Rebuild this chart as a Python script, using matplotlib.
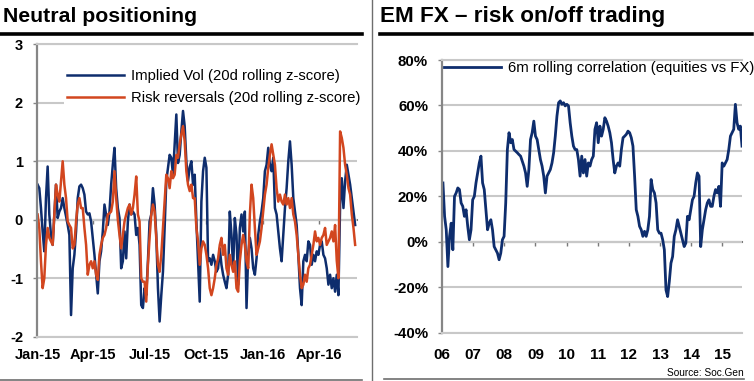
import numpy as np
import pandas as pd
import matplotlib
matplotlib.use("Agg")
import matplotlib.pyplot as plt
import matplotlib.dates as mdates
import matplotlib.ticker as mticker
from matplotlib.lines import Line2D

plt.rcParams['font.family'] = ['Liberation Sans', 'DejaVu Sans']
plt.rcParams['axes.unicode_minus'] = False

# --- Neutral positioning: 20d rolling z-scores, Jan-15 .. end of May-16 ---
implied_vol = [
    0.60, 0.54, 0.20, -0.20, -0.54, 0.37, 0.91, 0.09, -0.26, -0.43, 0.09, 0.60,
    0.03, 0.14, 0.20, 0.37, 0.20, 0.06, -0.09, -0.26, -1.63, -0.83, -0.60, -0.20,
    0.37, 0.57, 0.60, 0.54, 0.43, 0.14, 0.09, 0.11, -0.03, -0.31, -0.60, -0.94,
    -1.26, -0.71, -0.54, -0.20, 0.26, 0.09, -0.09, 0.14, 0.60, 0.94,
    1.23, 0.54, 0.20, 0.03, -0.83, -0.71, -0.20, -0.66, -0.03, 0.26, 0.09, 0.14,
    0.09, -0.26, -0.14, -0.43, -1.46, -1.51, -1.17, -1.29, -0.71, -0.03, 0.09, 0.54,
    0.26, -0.26, -1.17, -1.74, -1.29, -0.89, -0.14, 0.66, 0.89, 1.11, 1.06, 0.77,
    1.29, 1.80, 0.97, 1.11, 1.51, 1.86, 1.60, 1.00, 0.66, 0.90, 1.00, 0.60,
    0.77, -0.03, -0.71, -1.40, 0.31, 0.83, 1.06, 0.89, -0.71, -0.66, -0.77, -0.60,
    -0.71, -0.89, -0.83, -0.49, -0.77, -0.94, -1.06, -1.17, -0.94, 0.14, -0.26, -0.83,
    0.03, -0.26, -1.11, -0.14, 0.09, -0.20, 0.14, -1.51, -0.60, -0.31, -0.49, -0.83,
    -0.94, -0.66, -0.26, -0.03, 0.14, 0.37, 0.83, 0.94, 1.23, 0.94, 0.83, 1.06,
    0.20, 0.09, -0.20, -0.49, -0.71, -0.26, 0.20, 0.54, 1.00, 1.34, 0.94, 0.37,
    0.14, -0.09, -0.60, -1.17, -1.46, -0.71, -0.60, -0.71, -0.37, -0.43, -0.77, -0.60,
    -0.71, -0.54, -0.60, -0.43, -0.37, -0.60, -0.66, -0.83, -1.11, -0.94, -1.17, -1.00,
    -1.23, -0.94, -1.29, 0.26, 0.71, 0.20, 0.66, 0.94, 0.77, 0.60, 0.37, 0.14, -0.09,
]
risk_reversals = [
    0.09, -0.14, -0.71, -1.17, -1.00, -0.43, -0.14, -0.31, -0.37, -0.43, 0.09, 0.60,
    0.43, 0.31, 0.66, 1.00, 0.60, 0.37, -0.03, -0.09, -0.14, -0.49, -0.43, -0.03,
    0.26, 0.37, 0.20, 0.20, -0.14, -0.43, -0.94, -0.77, -0.71, -0.83, -0.71, -0.94,
    -1.03, -0.60, -0.43, -0.31, -0.26, -0.14, 0.09, 0.11, 0.14, 0.31,
    0.83, 0.37, 0.00, -0.26, -0.49, -0.26, -0.03, 0.09, 0.20, 0.26, 0.09, 0.20,
    0.43, 0.74, 0.09, -0.03, -1.00, -1.06, -1.06, -1.40, -0.77, -0.31, 0.09, 0.26,
    0.14, -0.31, -0.77, -0.89, -0.60, -0.14, 0.31, 0.77, 0.71, 0.54, 0.83, 0.71,
    0.77, 1.11, 1.06, 1.29, 1.46, 1.60, 1.34, 0.83, 0.60, 0.49, 0.60, 0.37,
    0.37, -0.14, -0.37, -0.77, -0.49, -0.37, -0.43, -0.60, -0.83, -1.17, -1.29, -1.17,
    -1.00, -0.77, -0.66, -0.43, -0.31, -0.60, -0.43, -0.83, -0.94, -0.60, -0.77, -0.89,
    -0.71, -1.17, -1.23, -0.71, -0.43, -0.26, -0.43, -0.71, -0.83, 0.09, 0.60, 0.37,
    -0.14, -0.60, -0.49, -0.37, -0.14, 0.14, 0.43, 0.60, 0.89, 1.11, 1.29, 1.11,
    0.94, 0.54, 0.31, 0.43, 0.31, 0.26, 0.43, 0.26, 0.37, 0.20, 0.37, 0.09,
    -0.03, -0.26, -0.60, -0.94, -1.17, -1.11, -0.94, -1.06, -0.83, -0.77, -0.60, -0.43,
    -0.20, -0.37, -0.31, -0.43, -0.31, -0.26, -0.14, -0.43, -0.37, -0.31, -0.20, -0.37,
    -0.09, -0.70, -1.00, 1.51, 1.40, 1.23, 0.94, 0.77, 0.54, 0.43, 0.09, -0.14, -0.43,
]
pos_start, pos_end = '2015-01-01', '2016-05-29'
pos_ticks = ['2015-01-01', '2015-04-01', '2015-07-01', '2015-10-01', '2016-01-01', '2016-04-01']
pos_yticks = [-2, -1, 0, 1, 2, 3]

# --- EM FX: 6m rolling correlation equities vs FX (%) ---
em_corr = [
    25.9, 11.2, 5.3, -10.9, 2.4, 8.2, -3.5, 20.0, 21.5, 23.7, 23.0, 17.1, 15.6, 11.2,
    14.1, 6.8, 0.9, 5.3, 18.5, 20.0, 25.9, 30.3, 34.7, 37.7, 25.9, 23.0, 14.1, 5.3,
    8.2, 9.7, 5.3, -2.1, -3.5, -5.0, -7.9, -5.0, 0.9, 2.4, 17.1, 40.6, 48.0, 43.6, 45.0,
    40.6, 39.9, 39.2, 38.4, 37.7, 35.5, 33.3, 30.3, 24.4, 31.8, 45.0, 48.0, 53.1, 46.5,
    45.0, 40.6, 36.2, 33.3, 28.9, 21.5, 28.9, 30.3, 31.8, 34.7, 39.2, 46.5, 55.3, 61.2,
    62.0, 60.5, 61.2, 59.8, 60.5, 59.8, 52.4, 46.5, 42.1, 40.6, 40.6, 36.2, 28.9, 37.7,
    30.3, 36.2, 28.9, 34.7,
    33.3, 36.2, 37.7, 49.5, 52.4, 43.6, 50.9, 46.5, 49.5, 54.6, 53.1, 50.9, 48.0, 43.6,
    36.2, 30.3, 33.3, 34.7, 33.3, 40.6, 45.8, 46.5, 47.3, 48.7, 48.0, 45.8, 42.1, 28.9,
    14.1, 11.2, 6.8, 5.3, 2.4, 4.6, 2.4, 5.3, 11.2, 27.4, 23.0, 21.5, 17.1, 5.3, 3.8,
    3.8, 0.9, -3.5,
    -21.2, -24.1, -17.5, -9.4, -6.5, 2.4, 5.3, 9.7, 6.8, 3.8, 0.9, -2.1, -0.6, 11.2,
    9.7, 14.1, 18.5, 20.0, 25.9, 30.3, 28.9, -2.1, 5.3, 9.7, 14.1, 17.1, 18.5, 15.6,
    15.6, 20.0, 23.0, 21.5, 24.4, 15.6, 34.7, 33.3, 34.7, 36.2, 40.6, 46.5, 48.0, 49.5,
    60.5, 52.4, 49.5, 50.9, 42.1,
]
corr_start, corr_end = '2006-01-12', '2015-08-20'
corr_years = list(range(2006, 2016))
corr_yticks = [-40, -20, 0, 20, 40, 60, 80]

BLUE = '#0e2d6d'
RED = '#d2461f'
GRID = '#c8c8c8'
AXIS = '#868686'

W, H = 754, 381
fig = plt.figure(figsize=(W / 100, H / 100), dpi=100)


def px(x0, y0, x1, y1):
    # pixel box (left, top, right, bottom) -> figure rect
    return [x0 / W, 1 - y1 / H, (x1 - x0) / W, (y1 - y0) / H]


def style_axes(ax, zero_frac, ylabelsize):
    ax.set_axisbelow(True)
    ax.yaxis.grid(True, color=GRID, lw=1.5)
    ax.xaxis.grid(False)
    for s in ('top', 'bottom'):
        ax.spines[s].set_color(GRID)
        ax.spines[s].set_linewidth(1.5)
    ax.spines['right'].set_visible(False)
    ax.spines['left'].set_color(AXIS)
    ax.spines['left'].set_linewidth(1.6)
    ax.tick_params(axis='y', length=3, width=1, color=AXIS, pad=7,
                   labelsize=ylabelsize)
    for t in ax.get_yticklabels():
        t.set_fontweight('bold')
    # zero line with small tick marks
    zl = ax.secondary_xaxis(zero_frac)
    zl.spines['bottom'].set_color('#7a7a7a')
    zl.spines['bottom'].set_linewidth(1.5)
    zl.tick_params(axis='x', length=3, width=1, color='#7a7a7a', labelbottom=False)
    return zl


# ---------------- left panel ----------------
ax1 = fig.add_axes(px(37, 44.3, 357, 336.7))
d1 = pd.date_range(pos_start, pos_end, periods=len(implied_vol))
ax1.plot(d1, implied_vol, color=BLUE, lw=1.8, label='Implied Vol (20d rolling z-score)')
ax1.plot(d1, risk_reversals, color=RED, lw=1.8, label='Risk reversals (20d rolling z-score)')
ax1.set_ylim(-2, 3)
ax1.set_yticks(pos_yticks)
ax1.set_xlim(pd.Timestamp('2014-12-31'), pd.Timestamp('2016-06-01'))
t1 = pd.to_datetime(pos_ticks)
ax1.set_xticks(t1)
ax1.xaxis.set_major_formatter(mdates.DateFormatter('%b-%y'))
ax1.tick_params(axis='x', length=0, pad=8, labelsize=10.5)
for t in ax1.get_xticklabels():
    t.set_fontweight('bold')
zl1 = style_axes(ax1, 0.4, 10.5)
zl1.set_xticks(mdates.date2num(t1))
ax1.legend(loc='upper left', bbox_to_anchor=(0.085, 0.926), frameon=True,
           facecolor='white', edgecolor='none', framealpha=1, fancybox=False,
           borderpad=0.2, borderaxespad=0, handlelength=3.8, handletextpad=0.47,
           labelspacing=0.55, fontsize=10.7)

# ---------------- right panel ----------------
ax2 = fig.add_axes(px(442, 60, 742, 332.7))
d2 = pd.date_range(corr_start, corr_end, periods=len(em_corr))
ax2.plot(d2, em_corr, color=BLUE, lw=2.0, label='6m rolling correlation (equities vs FX)')
ax2.set_ylim(-40, 80)
ax2.set_yticks(corr_yticks)
ax2.yaxis.set_major_formatter(mticker.PercentFormatter(xmax=100, decimals=0))
ax2.set_xlim(pd.Timestamp('2006-01-01'), pd.Timestamp('2015-08-20'))
t2 = pd.to_datetime([f'{y}-01-01' for y in corr_years])
ax2.set_xticks(t2)
ax2.xaxis.set_major_formatter(mdates.DateFormatter('%y'))
ax2.tick_params(axis='x', length=0, pad=11, labelsize=11)
for t in ax2.get_xticklabels():
    t.set_fontweight('bold')
zl2 = style_axes(ax2, 40 / 120, 10.8)
zl2.set_xticks(mdates.date2num(t2))
ax2.legend(loc='upper left', bbox_to_anchor=(0.007, 0.997), frameon=False,
           borderpad=0, borderaxespad=0, handlelength=3.8, handletextpad=0.47,
           fontsize=10.7)

# ---------------- titles, rules, source ----------------
fig.text(3 / W, 1 - 22 / H, 'Neutral positioning', fontsize=15.3, fontweight='bold',
         va='baseline', ha='left')
fig.text(380 / W, 1 - 22 / H, 'EM FX \u2013 risk on/off trading', fontsize=16.2,
         fontweight='bold', va='baseline', ha='left')
fig.add_artist(Line2D([0, 362 / W], [1 - 33.5 / H] * 2, color='black', lw=2.6))
fig.add_artist(Line2D([380 / W, 752 / W], [1 - 33.5 / H] * 2, color='black', lw=2.6))
fig.add_artist(Line2D([372 / W] * 2, [0, 1], color='#6e6e6e', lw=1.0))
fig.add_artist(Line2D([0, 362 / W], [1 - 379.5 / H] * 2, color='#6e6e6e', lw=1.2))
fig.add_artist(Line2D([384 / W, 744 / W], [1 - 379 / H] * 2, color='#6e6e6e', lw=1.2))
fig.text(744 / W, 1 - 376 / H, 'Source: Soc.Gen', fontsize=7.3, ha='right', va='baseline')

fig.savefig('out.png', dpi=100)
